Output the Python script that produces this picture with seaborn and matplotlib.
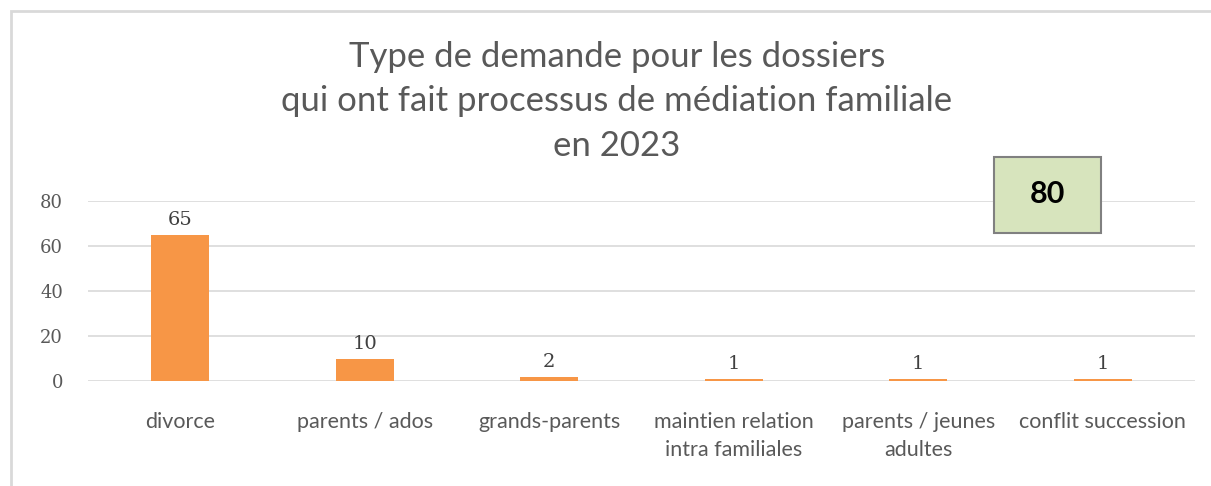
import matplotlib
matplotlib.use("Agg")
import matplotlib.pyplot as plt
import seaborn as sns
import pandas as pd
from matplotlib.patches import Rectangle

categories = ["divorce", "parents / ados", "grands-parents",
              "maintien relation\nintra familiales", "parents / jeunes\nadultes",
              "conflit succession"]
values = [65, 10, 2, 1, 1, 1]
yticks = [0, 20, 40, 60, 80]
title = "Type de demande pour les dossiers\nqui ont fait processus de médiation familiale\nen 2023"

sns.set_theme(style="white")
plt.rcParams['font.family'] = ['Lato', 'DejaVu Sans']

W, H = 1211, 486
fig = plt.figure(figsize=(W / 100, H / 100), dpi=100)
ax = fig.add_axes([88 / W, 1 - 381 / H, (1195 - 88) / W, (381 - 201) / H])

df = pd.DataFrame({"cat": categories, "val": values})
sns.barplot(data=df, x="cat", y="val", ax=ax, color="#F79646", saturation=1,
            width=0.315, linewidth=0, zorder=3)
ax.set_xlim(-0.5, len(categories) - 0.5)
ax.set_ylim(0, 80)
ax.set_yticks(yticks)
ax.set_xlabel("")
ax.set_ylabel("")
for s in ax.spines.values():
    s.set_visible(False)
ax.grid(axis="y", color="#D9D9D9", linewidth=1.2, zorder=0)
ax.tick_params(axis="y", length=0, pad=18)
ax.tick_params(axis="x", length=0, pad=22)
for lbl in ax.get_yticklabels():
    lbl.set_color("#595959")
    lbl.set_family("DejaVu Serif")
    lbl.set_fontsize(13)
for lbl in ax.get_xticklabels():
    lbl.set_color("#595959")
    lbl.set_fontsize(15.5)
    lbl.set_linespacing(1.55)

for i, v in enumerate(values):
    ax.annotate(str(v), (i, v), xytext=(0, 4), textcoords="offset points",
                ha="center", va="bottom", fontsize=14, color="#404040",
                family="DejaVu Serif")

fig.text(617 / W, 1 - 41 / H, title, ha="center", va="top", fontsize=25,
         color="#595959", linespacing=1.48)

# total box
total = sum(values)
fig.patches.append(Rectangle((994 / W, 1 - 233 / H), 107 / W, 76 / H,
                             transform=fig.transFigure, facecolor="#D7E4BD",
                             edgecolor="#808080", linewidth=1.5, zorder=5))
fig.text(1047.5 / W, 1 - 194 / H, str(total), ha="center", va="center",
         fontsize=22, fontweight="bold", color="black", zorder=6)

# chart border (only top and left visible)
fig.patches.append(Rectangle((11 / W, -0.1), 1.2, 1 - 11 / H + 0.1,
                             transform=fig.transFigure, facecolor="none",
                             edgecolor="#D9D9D9", linewidth=2, zorder=0))

fig.savefig("out.png", dpi=100)
